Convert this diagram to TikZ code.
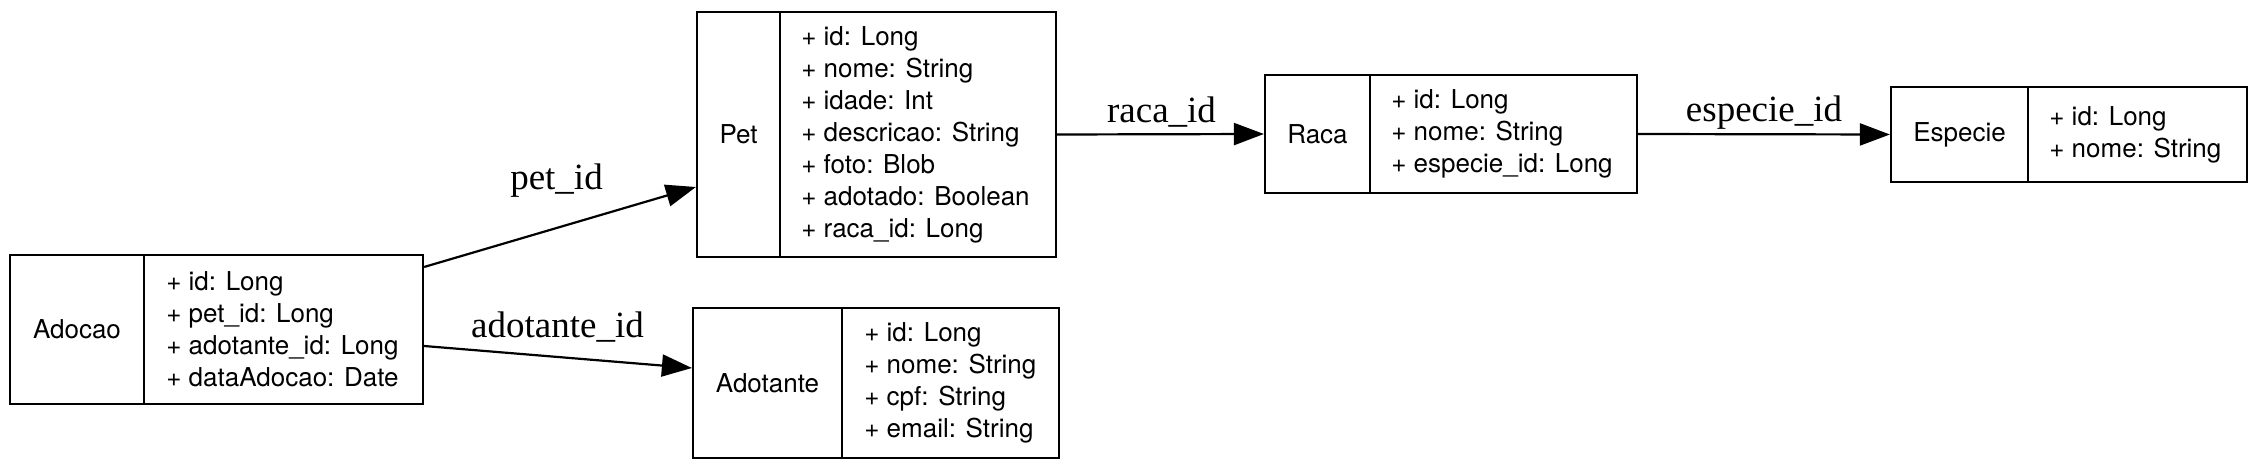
\documentclass[tikz,border=0pt]{standalone}
\usepackage{fontspec}
\setmainfont{Liberation Serif}
\newfontfamily\helv{TeX Gyre Heros}
\usetikzlibrary{arrows.meta}
\begin{document}
\begin{tikzpicture}[x=0.5pt,y=-0.5pt,
  cell/.style={draw,line width=1.1pt,rectangle,inner sep=0pt},
  nametext/.style={font=\helv\fontsize{13}{16}\selectfont},
  fieldtext/.style={font=\helv\fontsize{13}{16}\selectfont,align=left,anchor=west,inner sep=0pt},
  elabel/.style={font=\fontsize{18.5}{22}\selectfont,anchor=base,inner sep=0pt},
  fk/.style={line width=1.1pt,-{Triangle[length=15pt,width=11pt]}}]
\fill[white] (0,0) rectangle (2256,470);
\useasboundingbox (0,0) rectangle (2256,470);

% Adocao
\node[cell,nametext,minimum width=67pt,minimum height=74.5pt] (adocaon) at (77,329.5) {Adocao};
\node[cell,minimum width=139.5pt,minimum height=74.5pt] (adocaof) at (283.5,329.5) {};
\node[fieldtext] (adocaot) at ([xshift=11.5pt]adocaof.west) {+ id: Long\\+ pet\_id: Long\\+ adotante\_id: Long\\+ dataAdocao: Date};

% Pet
\node[cell,nametext,minimum width=41.5pt,minimum height=122.5pt] (petn) at (738.5,134.5) {Pet};
\node[cell,minimum width=138pt,minimum height=122.5pt] (petf) at (918,134.5) {};
\node[fieldtext] (pett) at ([xshift=11pt]petf.west) {+ id: Long\\+ nome: String\\+ idade: Int\\+ descricao: String\\+ foto: Blob\\+ adotado: Boolean\\+ raca\_id: Long};

% Adotante
\node[cell,nametext,minimum width=74.5pt,minimum height=75pt] (adotn) at (767.5,383) {Adotante};
\node[cell,minimum width=108.5pt,minimum height=75pt] (adotf) at (950.5,383) {};
\node[fieldtext] (adott) at ([xshift=11.5pt]adotf.west) {+ id: Long\\+ nome: String\\+ cpf: String\\+ email: String};

% Raca
\node[cell,nametext,minimum width=52.5pt,minimum height=59pt] (racan) at (1317.5,134) {Raca};
\node[cell,minimum width=133.5pt,minimum height=59pt] (racaf) at (1503.5,134) {};
\node[fieldtext] (racat) at ([xshift=11pt]racaf.west) {+ id: Long\\+ nome: String\\+ especie\_id: Long};

% Especie
\node[cell,nametext,minimum width=68.5pt,minimum height=47.5pt] (espn) at (1959.5,134.5) {Especie};
\node[cell,minimum width=109.5pt,minimum height=47.5pt] (espf) at (2137.5,134.5) {};
\node[fieldtext] (espt) at ([xshift=11pt]espf.west) {+ id: Long\\+ nome: String};

% Edges
\draw[fk] ([yshift=31.25pt]adocaof.east) -- ([yshift=-26.25pt]petn.west);
\draw[fk] ([yshift=-8.25pt]adocaof.east) -- ([yshift=7.5pt]adotn.west);
\draw[fk] (petf.east) -- (racan.west);
\draw[fk] (racaf.east) -- (espn.west);

% Edge labels
\node[elabel] (lpet) at (556.5,190) {pet\_id};
\node[elabel] (ladot) at (557.5,338) {adotante\_id};
\node[elabel] (lraca) at (1161.5,123) {raca\_id};
\node[elabel] (lesp) at (1764,122) {especie\_id};
\end{tikzpicture}
\end{document}
